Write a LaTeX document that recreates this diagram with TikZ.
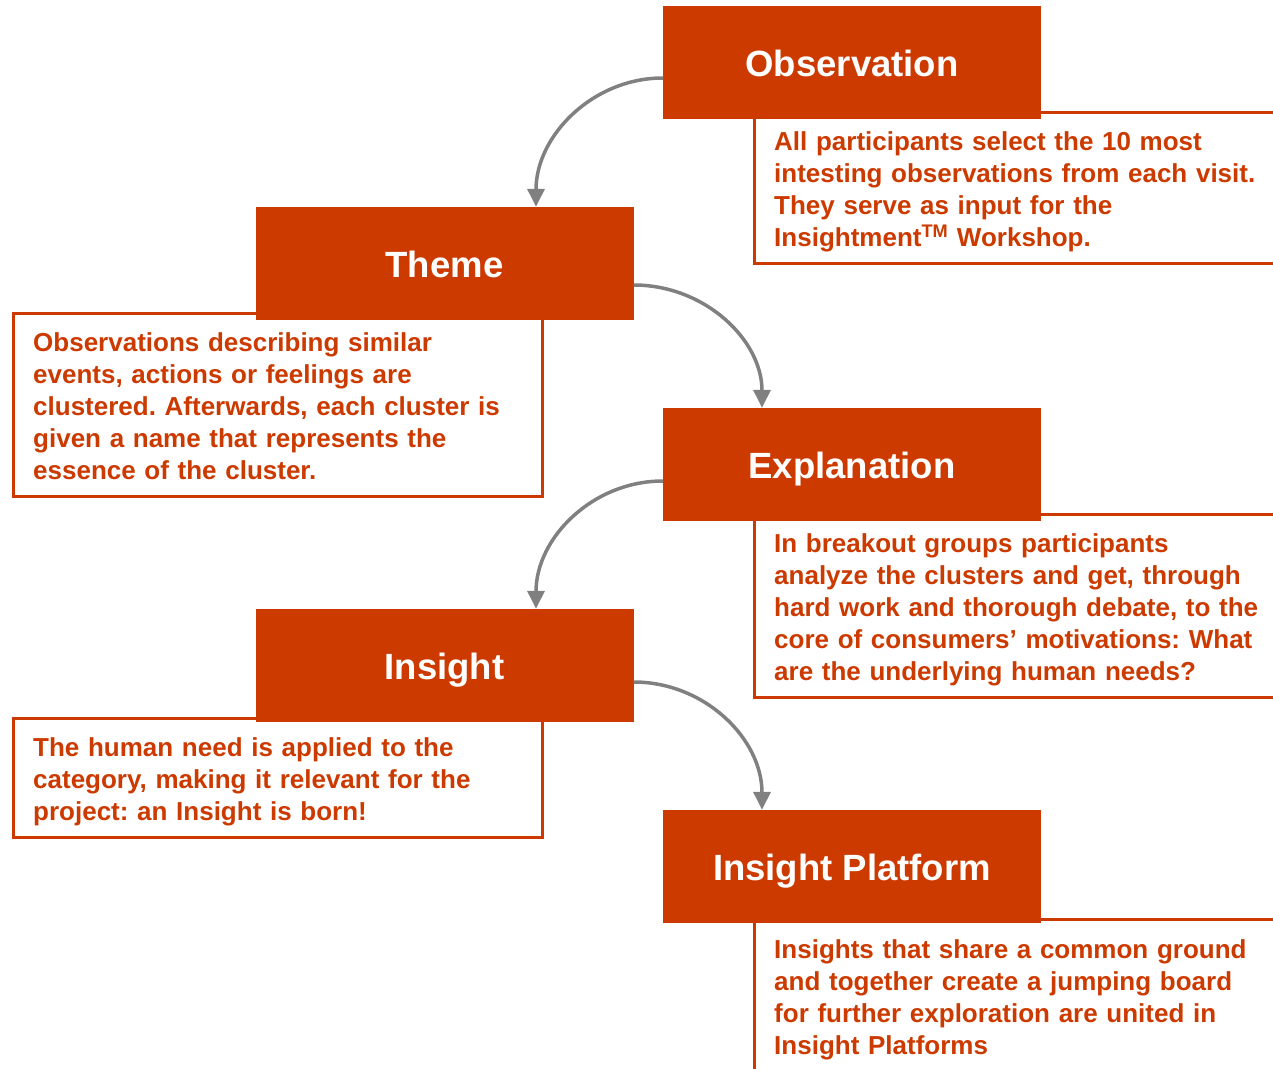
\documentclass[tikz,border=0pt]{standalone}
\usepackage{fontspec}
\setmainfont{Liberation Sans}
\usetikzlibrary{arrows.meta,calc}
\definecolor{rust}{HTML}{CC3A00}
\definecolor{flowgray}{HTML}{808080}
\frenchspacing

\begin{document}
\begin{tikzpicture}[x=1pt,y=-1pt,
  header/.style={fill=rust, inner sep=0pt, minimum width=378pt, minimum height=113pt,
    text=white, font=\fontsize{36.5}{40}\selectfont\bfseries,
    text height=28.4pt, text depth=0pt},
  notebox/.style={draw=rust, line width=3pt, fill=white, inner sep=0pt},
  notetext/.style={anchor=base west, inner sep=0pt, text=rust,
    font=\fontsize{26}{32}\selectfont\bfseries, align=left, text width=#1},
  flow/.style={draw=flowgray, line width=3.5pt, -{Triangle[length=18pt,width=17pt]}}]

\clip (0,0) rectangle (1273,1068);

% description boxes (drawn first so the headers sit on top)
\node[notebox, minimum width=536pt, minimum height=151pt]   (obsbox)     at (1022,187.5) {};
\node[notebox, minimum width=528.5pt, minimum height=182.5pt] (themebox)  at (277.75,404.75) {};
\node[notebox, minimum width=536pt, minimum height=183pt]   (explbox)    at (1022,605.5) {};
\node[notebox, minimum width=528.5pt, minimum height=119pt] (insightbox) at (277.75,777.5) {};
\node[notebox, minimum width=536pt, minimum height=181pt]   (ipbox)      at (1022,1009.5) {};

% step headers
\node[header] (obs)     at (852,62.5)   {Observation};
\node[header] (theme)   at (444.5,263.5) {Theme};
\node[header] (expl)    at (852,464.5)  {Explanation};
\node[header] (insight) at (444.5,665.5) {Insight};
\node[header] (ip)      at (852,866.5)  {Insight Platform};

% descriptions
\node[notetext=500pt] (obstext) at (774,150.5) {All participants select the 10 most\\
intesting observations from each visit.\\
They serve as input for the\\
Insightment\textsuperscript{TM} Workshop.};
\node[notetext=495pt] (themetext) at (33,351.5) {Observations describing similar\\
events, actions or feelings are\\
clustered. Afterwards, each cluster is\\
given a name that represents the\\
essence of the cluster.};
\node[notetext=500pt] (expltext) at (774,552.5) {In breakout groups participants\\
analyze the clusters and get, through\\
hard work and thorough debate, to the\\
core of consumers’ motivations: What\\
are the underlying human needs?};
\node[notetext=495pt] (insighttext) at (33,756.5) {The human need is applied to the\\
category, making it relevant for the\\
project: an Insight is born!};
\node[notetext=500pt] (iptext) at (774,958.5) {Insights that share a common ground\\
and together create a jumping board\\
for further exploration are united in\\
Insight Platforms};

% flow between the steps
\draw[flow] ($(obs.west)+(0,15.5)$) .. controls +(-70,0) and +(0,-71) .. ($(theme.north)+(91.5,0)$);
\draw[flow] ($(theme.east)+(0,21.5)$) .. controls +(71,0) and +(0,-68) .. ($(expl.north)+(-90,0)$);
\draw[flow] ($(expl.west)+(0,16.5)$) .. controls +(-70,0) and +(0,-71) .. ($(insight.north)+(91.5,0)$);
\draw[flow] ($(insight.east)+(0,16.5)$) .. controls +(71,0) and +(0,-71) .. ($(ip.north)+(-90,0)$);
\end{tikzpicture}
\end{document}
